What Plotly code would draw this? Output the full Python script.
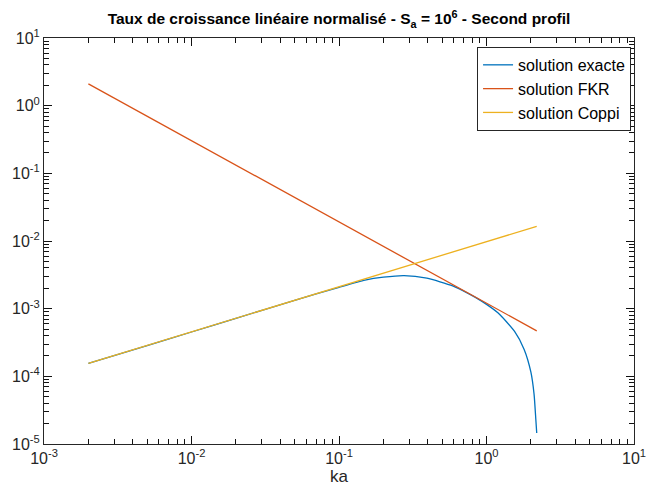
import plotly.graph_objects as go

# Data
ka_exact = [0.002, 0.005, 0.01, 0.02, 0.05, 0.1, 0.15, 0.2, 0.276, 0.394, 0.59,
            0.75, 0.932, 1.2, 1.55, 1.80, 2.0, 2.1, 2.16, 2.19]
g_exact = [1.55e-4, 2.85e-4, 4.52e-4, 7.2e-4, 1.33e-3, 2.07e-3, 2.64e-3, 2.92e-3,
           3.08e-3, 2.82e-3, 2.17e-3, 1.68e-3, 1.28e-3, 8.6e-4, 4.6e-4, 2.5e-4,
           1.15e-4, 5.5e-5, 2.3e-5, 1.45e-5]

ka_fkr = [0.002, 2.19]
g_fkr = [2.1, 4.7e-4]

ka_coppi = [0.002, 2.19]
g_coppi = [1.55e-4, 1.65e-2]

x_decades = [-3, -2, -1, 0, 1]
y_decades = [-5, -4, -3, -2, -1, 0, 1]

def decade_ticks(decs):
    vals, texts = [], []
    for e in decs:
        vals.append(10.0 ** e)
        texts.append("10<sup>%d</sup>" % e)
        if e != decs[-1]:
            for m in range(2, 10):
                vals.append(m * 10.0 ** e)
                texts.append("")
    return vals, texts

x_tickvals, x_ticktext = decade_ticks(x_decades)
y_tickvals, y_ticktext = decade_ticks(y_decades)
x_major = [10.0 ** e for e in x_decades]
y_major = [10.0 ** e for e in y_decades]

FONT = "Liberation Sans, Arial, Helvetica, sans-serif"
AX = "#262626"

fig = go.Figure()
fig.add_trace(go.Scatter(x=ka_exact, y=g_exact, mode="lines", name="solution exacte",
                         line=dict(color="#0072BD", width=1.3, shape="spline", smoothing=0.6)))
fig.add_trace(go.Scatter(x=ka_fkr, y=g_fkr, mode="lines", name="solution FKR",
                         line=dict(color="#D95319", width=1.3)))
fig.add_trace(go.Scatter(x=ka_coppi, y=g_coppi, mode="lines", name="solution Coppi",
                         line=dict(color="#EDB120", width=1.3)))
# invisible helper trace so the overlay axes (long decade ticks) are drawn
fig.add_trace(go.Scatter(x=ka_fkr, y=g_fkr, mode="lines", xaxis="x2", yaxis="y2",
                         line=dict(width=0), opacity=0, showlegend=False, hoverinfo="skip"))

base = dict(type="log", showline=True, linecolor=AX, linewidth=1, mirror="ticks",
            ticks="inside", tickcolor="#111111", tickwidth=1, showgrid=False, zeroline=False,
            tickmode="array", ticklabeloverflow="allow",
            tickfont=dict(family=FONT, size=16, color=AX))

fig.update_layout(
    xaxis=dict(range=[-3, 1], tickvals=x_tickvals, ticktext=x_ticktext, ticklen=5,
               title=dict(text="ka", font=dict(family=FONT, size=17, color=AX), standoff=3),
               **base),
    yaxis=dict(range=[-5, 1], tickvals=y_tickvals, ticktext=y_ticktext, ticklen=5, **base),
    xaxis2=dict(range=[-3, 1], tickvals=x_major, ticklen=8, showticklabels=False,
                overlaying="x", anchor="y2", side="bottom", **base),
    yaxis2=dict(range=[-5, 1], tickvals=y_major, ticklen=8, showticklabels=False,
                overlaying="y", anchor="x2", side="left", **base),
    width=658, height=497,
    margin=dict(l=41, r=12, t=38, b=53),
    paper_bgcolor="white", plot_bgcolor="white",
    font=dict(family=FONT, size=16, color=AX),
    title=dict(text="<b>Taux de croissance linéaire normalisé - S<sub>a</sub> = 10<sup>6</sup> - Second profil</b>",
               x=0.5, xref="paper", xanchor="center", y=1 - 19 / 497, yref="container",
               yanchor="middle", font=dict(family=FONT, size=15.5, color="black")),
    legend=dict(x=0.995, y=0.978, xanchor="right", yanchor="top",
                bordercolor=AX, borderwidth=1, bgcolor="white",
                font=dict(family=FONT, size=16, color="black"),
                itemwidth=30, tracegroupgap=0),
    showlegend=True,
)

fig.write_html("out.html", config={"displayModeBar": False},
               post_script="document.body.style.margin='0';document.body.style.overflow='hidden';")
